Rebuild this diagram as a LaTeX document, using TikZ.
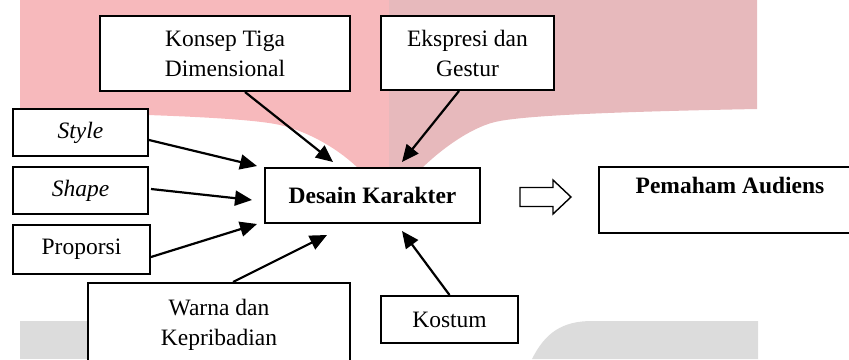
\documentclass[tikz,border=0pt]{standalone}
\usepackage{fontspec}
\setmainfont{Liberation Serif}
\usetikzlibrary{arrows.meta,calc}
\definecolor{pinkL}{RGB}{247,185,188}
\definecolor{pinkR}{RGB}{231,185,188}
\definecolor{wmgray}{RGB}{220,220,220}
\begin{document}
\begin{tikzpicture}[x=1pt,y=-1pt,
  box/.style={draw, line width=2pt, fill=white, align=center, inner sep=0pt,
    font=\fontsize{23.5}{30}\selectfont},
  conn/.style={line width=2.2pt, -{Triangle[length=17pt,width=15pt]}},
  hollow/.style={draw, line width=1.4pt, fill=white}]
\useasboundingbox (0,0) rectangle (849,359);
% watermark background
\fill[pinkL] (20,0) -- (389,0) -- (389,200) -- (360,200) -- (360,170)
  .. controls (340,150) and (310,132) .. (280,125)
  .. controls (250,118) and (150,114) .. (20,112) -- cycle;
\fill[pinkR] (389,0) -- (757,0) -- (757,109)
  .. controls (600,112) and (520,116) .. (495,122)
  .. controls (470,128) and (440,150) .. (420,170) -- (420,200) -- (389,200) -- cycle;
\fill[wmgray] (20,321) rectangle (300,359);
\fill[wmgray] (532,359) .. controls (545,333) and (562,321) .. (592,321)
  -- (758,321) -- (758,359) -- cycle;
% boxes
\node[box, minimum width=250pt, minimum height=75pt] (konsep) at (225,53.5) {Konsep Tiga\\Dimensional};
\node[box, minimum width=173pt, minimum height=74pt] (ekspresi) at (467.5,53) {Ekspresi dan\\Gestur};
\node[box, minimum width=135pt, minimum height=47pt] (style) at (80.5,132.5) {\itshape Style};
\node[box, minimum width=135pt, minimum height=47pt] (shape) at (80.5,190.5) {\itshape Shape};
\node[box, minimum width=137pt, minimum height=49pt] (proporsi) at (81.5,249.5) {Proporsi};
\node[box, minimum width=215pt, minimum height=55pt] (desain) at (372.5,195.5) {\bfseries Desain Karakter};
\node[box, minimum width=262pt, minimum height=66pt] (pemaham) at (730,200) {\bfseries Pemaham Audiens\\\mbox{}};
\node[box, minimum width=262pt, minimum height=84pt] (warna) at (219,325) {Warna dan\\Kepribadian};
\node[box, minimum width=137pt, minimum height=47pt] (kostum) at (449.5,319.5) {Kostum};
% connectors
\draw[conn] ($(style.east)+(0,7.5)$) -- ($(desain.north west)+(-7,-1)$);
\draw[conn] ($(shape.east)+(2,-1.5)$) -- ($(desain.west)+(-12,4.5)$);
\draw[conn] ($(proporsi.east)+(0,7.5)$) -- ($(desain.south west)+(-7,0)$);
\draw[conn] ($(konsep.south)+(20,0)$) -- ($(desain.north)+(-39.5,-5)$);
\draw[conn] ($(ekspresi.south)+(-8.5,0)$) -- ($(desain.north)+(29.5,-5)$);
\draw[conn] ($(warna.north)+(14,0)$) -- ($(desain.south)+(-45.5,11)$);
\draw[conn] (kostum.north) -- ($(desain.south)+(29.5,7)$);
% hollow block arrow
\draw[hollow] ($(desain.east)+(39,-8)$) -- ++(33,0) -- ++(0,-7.5) -- ++(18,17)
  -- ++(-18,17) -- ++(0,-7.5) -- ++(-33,0) -- cycle;
\end{tikzpicture}
\end{document}
